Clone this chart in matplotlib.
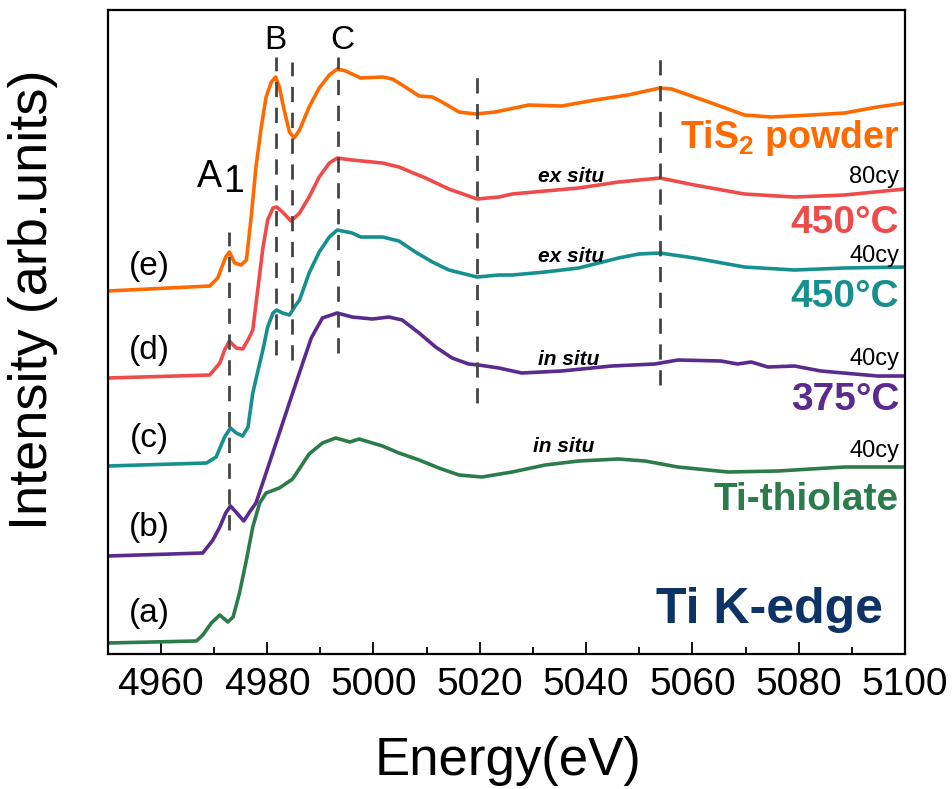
import matplotlib
matplotlib.use("Agg")
import matplotlib.pyplot as plt
from matplotlib.ticker import MultipleLocator

plt.rcParams['font.family'] = ['Liberation Sans', 'DejaVu Sans']
plt.rcParams['mathtext.fontset'] = 'custom'
plt.rcParams['mathtext.rm'] = 'Liberation Sans'
plt.rcParams['mathtext.bf'] = 'Liberation Sans:bold'

# espectros XANES apilados (energia en eV, intensidad en u.a. ya desplazada)
e_tis2 = [4950, 4969.2, 4970.7, 4972.2, 4972.9, 4973.9, 4975.1, 4976.1, 4977.0, 4977.9, 4978.9,
          4979.8, 4980.8, 4981.6, 4982.3, 4983.2, 4984.2, 4985.1, 4986.1, 4987.9, 4989.8, 4991.7,
          4993.2, 4994.8, 4997.6, 5001.7, 5003.6, 5005.4, 5008.6, 5011.1, 5012.9, 5016.1, 5019.2,
          5022.9, 5029.2, 5035.4, 5041.7, 5047.9, 5053.9, 5056.1, 5063.6, 5069.8, 5074.8, 5082.3,
          5088.6, 5094.8, 5100]
i_tis2 = [3.63, 3.68, 3.76, 3.97, 4.02, 3.91, 3.89, 3.94, 4.37, 4.87, 5.27, 5.57, 5.72, 5.77,
          5.67, 5.44, 5.22, 5.16, 5.24, 5.47, 5.66, 5.79, 5.85, 5.83, 5.76, 5.77, 5.75, 5.69, 5.58,
          5.57, 5.52, 5.42, 5.40, 5.42, 5.49, 5.48, 5.54, 5.59, 5.66, 5.65, 5.51, 5.39, 5.37, 5.39,
          5.41, 5.47, 5.51]

e_450_80 = [4950, 4969.2, 4971.1, 4972.0, 4972.9, 4974.2, 4975.4, 4976.4, 4977.3, 4978.3, 4979.2,
            4980.1, 4981.1, 4981.8, 4982.9, 4984.5, 4986.1, 4987.9, 4989.8, 4991.7, 4993.2, 4996.0,
            5001.7, 5004.8, 5009.8, 5014.2, 5019.5, 5023.6, 5026.1, 5032.3, 5038.6, 5046.1, 5053.9,
            5060.4, 5069.8, 5079.2, 5088.6, 5100]
i_450_80 = [2.76, 2.79, 2.91, 3.04, 3.13, 3.06, 3.05, 3.14, 3.24, 3.67, 4.06, 4.34, 4.46, 4.47,
            4.42, 4.33, 4.41, 4.57, 4.77, 4.91, 4.96, 4.94, 4.91, 4.87, 4.76, 4.65, 4.55, 4.57, 4.60,
            4.63, 4.66, 4.72, 4.76, 4.69, 4.60, 4.57, 4.59, 4.65]

e_450_40 = [4950, 4968.6, 4970.4, 4972.0, 4973.1, 4974.2, 4975.4, 4976.4, 4977.3, 4978.3, 4979.2,
            4980.1, 4981.1, 4981.8, 4982.9, 4984.2, 4985.4, 4986.1, 4987.9, 4989.8, 4991.7, 4993.2,
            4996.0, 4997.6, 5001.7, 5004.8, 5007.9, 5011.1, 5014.2, 5019.5, 5023.6, 5026.1, 5032.3,
            5038.6, 5046.1, 5049.9, 5053.9, 5060.4, 5069.8, 5079.2, 5088.6, 5100]
i_450_40 = [1.88, 1.91, 1.97, 2.17, 2.26, 2.21, 2.18, 2.27, 2.61, 2.84, 3.04, 3.27, 3.41, 3.44,
            3.41, 3.39, 3.49, 3.54, 3.81, 4.02, 4.17, 4.24, 4.21, 4.17, 4.17, 4.13, 4.02, 3.92, 3.84,
            3.77, 3.79, 3.79, 3.82, 3.86, 3.96, 4.00, 4.01, 3.96, 3.87, 3.84, 3.86, 3.87]

e_375 = [4950, 4967.9, 4969.8, 4971.1, 4972.2, 4973.1, 4974.3, 4975.6, 4976.7, 4977.9, 4979.8,
         4982.3, 4984.8, 4986.7, 4988.3, 4990.4, 4993.2, 4996.0, 4999.8, 5002.9, 5005.4, 5008.6,
         5011.7, 5014.8, 5017.9, 5019.8, 5023.6, 5027.9, 5035.4, 5044.8, 5052.9, 5057.3, 5065.4,
         5068.5, 5071.1, 5074.2, 5079.2, 5084.2, 5094.8, 5100]
i_375 = [0.98, 1.01, 1.14, 1.27, 1.41, 1.48, 1.41, 1.33, 1.42, 1.51, 1.81, 2.21, 2.61, 2.91, 3.16,
         3.36, 3.41, 3.37, 3.35, 3.37, 3.34, 3.21, 3.07, 2.96, 2.90, 2.89, 2.86, 2.81, 2.83, 2.88,
         2.90, 2.94, 2.93, 2.90, 2.92, 2.87, 2.88, 2.83, 2.78, 2.78]

e_tiol = [4950, 4966.7, 4967.9, 4969.5, 4971.1, 4972.6, 4973.6, 4974.8, 4976.1, 4977.3, 4978.6,
          4979.8, 4982.3, 4984.8, 4987.9, 4990.4, 4992.9, 4995.6, 4997.3, 5001.7, 5004.8, 5008.6,
          5012.3, 5016.1, 5020.4, 5026.1, 5032.3, 5038.6, 5046.1, 5051.1, 5057.3, 5066.7, 5076.1,
          5082.3, 5088.6, 5100]
i_tiol = [0.11, 0.13, 0.19, 0.31, 0.39, 0.32, 0.37, 0.61, 0.94, 1.27, 1.51, 1.61, 1.66, 1.75,
          2.00, 2.11, 2.16, 2.12, 2.15, 2.08, 2.01, 1.94, 1.86, 1.79, 1.77, 1.82, 1.89, 1.93, 1.95,
          1.93, 1.87, 1.82, 1.83, 1.85, 1.87, 1.87]

# lineas guia: energia, y arriba, y abajo
guia_e = [4972.9, 4981.7, 4984.7, 4993.3, 5019.5, 5054.0]
guia_top = [4.22, 5.97, 5.92, 5.97, 5.82, 6.01]
guia_bot = [1.24, 2.99, 2.94, 3.01, 2.51, 2.69]

naranja = '#ff6a00'
rojo = '#f04b4b'
teal = '#15908e'
morado = '#5a2a8e'
verde = '#2c7b4b'

fig = plt.figure(figsize=(9.52, 7.89), dpi=100)
ax = fig.add_axes([0.1131, 0.1711, 0.8375, 0.8162])

curvas = [(e_tis2, i_tis2, naranja), (e_450_80, i_450_80, rojo), (e_450_40, i_450_40, teal),
          (e_375, i_375, morado), (e_tiol, i_tiol, verde)]
for e, i, c in curvas:
    ax.plot(e, i, color=c, lw=2.6, solid_joinstyle='round')

for e, y1, y0 in zip(guia_e, guia_top, guia_bot):
    ax.plot([e, e], [y0, y1], color='#454545', lw=2.0, dashes=(5.5, 3.8))

ax.set_xlim(4950, 5100)
ax.set_ylim(0, 6.44)
ax.xaxis.set_major_locator(MultipleLocator(20))
ax.xaxis.set_minor_locator(MultipleLocator(10))
ax.set_yticks([])
ax.tick_params(axis='x', which='major', direction='in', length=9, width=1.3,
               labelsize=28, pad=9)
ax.tick_params(axis='x', which='minor', direction='in', length=5, width=1.3)
for s in ax.spines.values():
    s.set_linewidth(1.6)

# etiquetas de los picos
ax.text(4969.2, 4.77, 'A', fontsize=27, ha='center', va='center')
ax.text(4973.7, 4.72, '1', fontsize=27, ha='center', va='center')
ax.text(4981.6, 6.14, 'B', fontsize=24, ha='center', va='center')
ax.text(4994.1, 6.14, 'C', fontsize=24, ha='center', va='center')

for lab, y in zip(['(e)', '(d)', '(c)', '(b)', '(a)'], [3.88, 3.04, 2.16, 1.27, 0.41]):
    ax.text(4957.8, y, lab, fontsize=24, ha='center', va='center')

xr = 5098.9
ax.text(xr, 5.06, r'TiS$_\mathbf{2}$ powder', color=naranja, fontsize=27,
        fontweight='bold', ha='right', va='baseline')
ax.text(xr, 4.21, '450°C', color=rojo, fontsize=28, fontweight='bold', ha='right', va='baseline')
ax.text(xr, 3.47, '450°C', color=teal, fontsize=28, fontweight='bold', ha='right', va='baseline')
ax.text(xr, 2.44, '375°C', color=morado, fontsize=28, fontweight='bold', ha='right', va='baseline')
ax.text(xr, 1.44, 'Ti-thiolate', color=verde, fontsize=28, fontweight='bold',
        ha='right', va='baseline')
for lab, y in zip(['80cy', '40cy', '40cy', '40cy'], [4.71, 3.92, 2.89, 1.97]):
    ax.text(xr, y, lab, fontsize=17, ha='right', va='baseline')
for lab, x, y in zip(['ex situ', 'ex situ', 'in situ', 'in situ'],
                     [5037.1, 5037.1, 5036.7, 5035.8], [4.72, 3.92, 2.89, 2.02]):
    ax.text(x, y, lab, fontsize=15, style='italic', fontweight='bold', ha='center', va='baseline')

ax.text(5095.8, 0.31, 'Ti K-edge', color='#0d3366', fontsize=36, fontweight='bold',
        ha='right', va='baseline')

fig.text(508 / 952, 1 - 775 / 789, 'Energy(eV)', fontsize=38, ha='center', va='baseline')
fig.text(33 / 952, 1 - 300 / 789, 'Intensity (arb.units)', fontsize=39, rotation=90,
         ha='center', va='center')

fig.savefig('out.png', dpi=100)
